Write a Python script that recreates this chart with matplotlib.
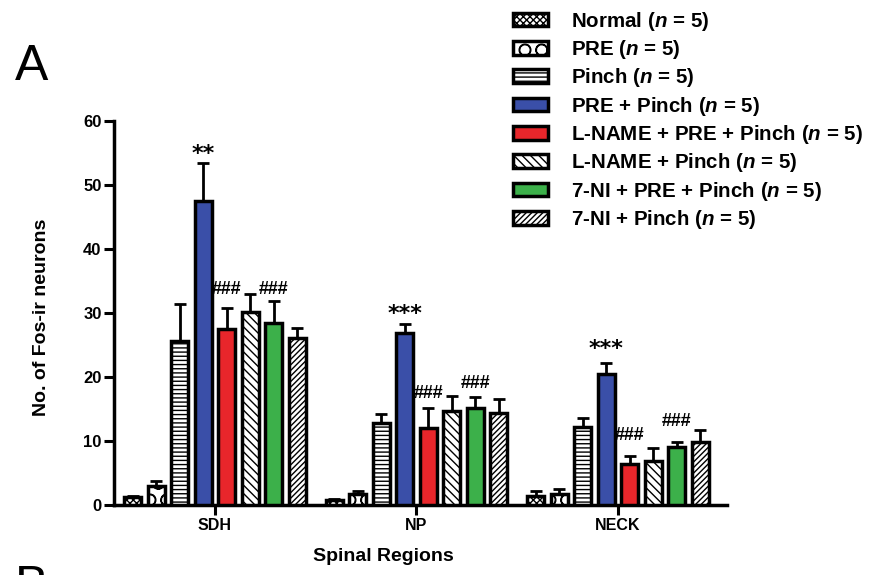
"""
Fos-ir neurons per spinal region, panel A
"""
import numpy as np
import matplotlib.pyplot as plt
from matplotlib.patches import Patch

plt.rcParams['font.family'] = ['Liberation Sans', 'DejaVu Sans']
plt.rcParams['mathtext.fontset'] = 'custom'
plt.rcParams['mathtext.it'] = 'Liberation Sans:italic:bold'
plt.rcParams['mathtext.rm'] = 'Liberation Sans:bold'
plt.rcParams['hatch.linewidth'] = 1.0

# data
regions = ['SDH', 'NP', 'NECK']
groups = ['Normal', 'PRE', 'Pinch', 'PRE + Pinch', 'L-NAME + PRE + Pinch',
          'L-NAME + Pinch', '7-NI + PRE + Pinch', '7-NI + Pinch']
means = np.array([
    [1.2, 0.8, 1.4],     # Normal
    [2.9, 1.8, 1.8],     # PRE
    [25.6, 12.8, 12.2],  # Pinch
    [47.5, 26.9, 20.5],  # PRE + Pinch
    [27.5, 12.0, 6.4],   # L-NAME + PRE + Pinch
    [30.2, 14.7, 6.9],   # L-NAME + Pinch
    [28.4, 15.2, 9.1],   # 7-NI + PRE + Pinch
    [26.1, 14.4, 9.8],   # 7-NI + Pinch
])
sems = np.array([
    [0.2, 0.2, 0.8],
    [0.9, 0.4, 0.7],
    [5.8, 1.5, 1.4],
    [5.9, 1.4, 1.7],
    [3.3, 3.2, 1.2],
    [2.8, 2.3, 2.0],
    [3.5, 1.7, 0.8],
    [1.6, 2.2, 2.0],
])
# (region index, group index, text, level)
marks = [
    (0, 3, '**', 55.5), (0, 4, '###', 33.6), (0, 6, '###', 33.6),
    (1, 3, '***', 30.5), (1, 4, '###', 17.5), (1, 6, '###', 19.0),
    (2, 3, '***', 25.0), (2, 4, '###', 10.8), (2, 6, '###', 13.1),
]

colors = ['white', 'white', 'white', '#3a4fa8', '#e8262b', 'white', '#3cb04a', 'white']
hatches = ['xxxxx', 'O', '----', None, None, '\\\\\\\\', None, '//////']

fig = plt.figure(figsize=(8.69, 5.75), dpi=100)
ax = fig.add_axes([0.1312, 0.1217, 0.7054, 0.6678])

x = np.arange(len(regions))
step = 0.1166
width = 0.084
for i, g in enumerate(groups):
    pos = x + (i - 3.5) * step
    ax.bar(pos, means[i], width, color=colors[i], edgecolor='black',
           linewidth=2.5, hatch=hatches[i], zorder=3)
    ax.errorbar(pos, means[i], yerr=[np.zeros(3), sems[i]], fmt='none',
                ecolor='black', elinewidth=2, capsize=4, capthick=2, zorder=2)

for r, g, txt, lvl in marks:
    if txt.startswith('*'):
        ax.text(x[r] + (g - 3.5) * step, lvl - 0.6, txt, ha='center', va='center',
                fontsize=16, fontweight='bold', family='DejaVu Sans')
    else:
        ax.text(x[r] + (g - 3.5) * step, lvl, txt, ha='center', va='center',
                fontsize=13, fontweight='bold')

ax.set_xlim(-0.5, 2.54)
ax.set_ylim(0, 60)
ax.set_yticks(np.arange(0, 61, 10))
ax.set_xticks(x)
ax.set_xticklabels(regions, fontweight='bold', fontsize=11.5)
for lab in ax.get_yticklabels():
    lab.set_fontweight('bold')
    lab.set_fontsize(12)
ax.tick_params(width=2.2, length=7, pad=2)
ax.spines['top'].set_visible(False)
ax.spines['right'].set_visible(False)
ax.spines['left'].set_linewidth(2.5)
ax.spines['bottom'].set_linewidth(2.5)
ax.set_ylabel('No. of Fos-ir neurons', fontsize=14, fontweight='bold')
ax.yaxis.set_label_coords(-0.105, 0.49)
ax.set_xlabel('Spinal Regions', fontsize=14, fontweight='bold')
ax.xaxis.set_label_coords((383 - 114) / 613, -0.112)

handles = [Patch(facecolor=colors[i], edgecolor='black', linewidth=2.5,
                 hatch=hatches[i]) for i in range(len(groups))]
labels = [g + r' ($n$ = 5)' for g in groups]
fig.legend(handles, labels, loc='upper left', bbox_to_anchor=(0.590, 0.983),
           frameon=False, prop={'weight': 'bold', 'size': 14.8},
           borderpad=0, borderaxespad=0,
           handlelength=1.7, handleheight=0.65, handletextpad=1.15,
           labelspacing=0.26)

fig.text(0.017, 0.86, 'A', fontsize=36)
fig.text(0.017, -0.045, 'B', fontsize=36)

fig.savefig('out.png', dpi=100)
